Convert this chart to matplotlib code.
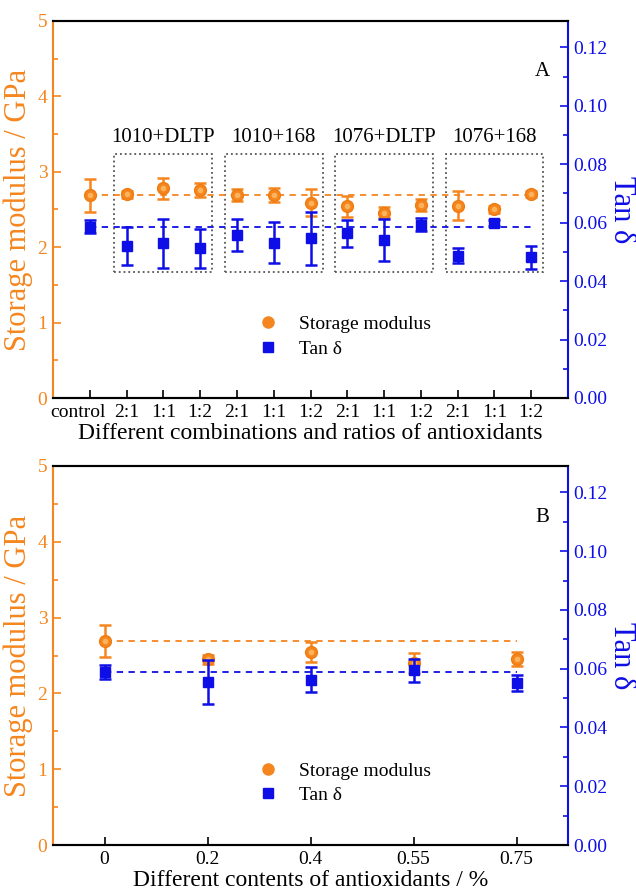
import numpy as np
import matplotlib
matplotlib.use('Agg')
import matplotlib.pyplot as plt
import matplotlib.transforms as mtransforms
from matplotlib.lines import Line2D
from matplotlib.patches import Rectangle
from matplotlib.ticker import MultipleLocator

plt.rcParams['font.family'] = ['Liberation Serif', 'DejaVu Serif']

# ---- data: panel A ----
combo_labels = ['control', '2:1', '1:1', '1:2', '2:1', '1:1', '1:2',
                '2:1', '1:1', '1:2', '2:1', '1:1', '1:2']
group_names = ['1010+DLTP', '1010+168', '1076+DLTP', '1076+168']
sm_a = [2.69, 2.70, 2.78, 2.76, 2.69, 2.69, 2.59, 2.54, 2.46, 2.56, 2.55, 2.50, 2.71]
sm_a_err = [0.22, 0.05, 0.14, 0.09, 0.08, 0.09, 0.18, 0.14, 0.07, 0.08, 0.19, 0.04, 0.04]
tan_a = [0.0586, 0.0521, 0.0529, 0.0512, 0.0557, 0.0532, 0.0546,
         0.0563, 0.0542, 0.0593, 0.0487, 0.0599, 0.0481]
tan_a_err = [0.0023, 0.0065, 0.0084, 0.0067, 0.0054, 0.0070, 0.0090,
             0.0045, 0.0072, 0.0022, 0.0026, 0.0010, 0.0038]

# ---- data: panel B ----
content_labels = ['0', '0.2', '0.4', '0.55', '0.75']
sm_b = [2.69, 2.45, 2.55, 2.40, 2.45]
sm_b_err = [0.21, 0.06, 0.13, 0.13, 0.09]
tan_b = [0.0589, 0.0555, 0.0563, 0.0594, 0.0551]
tan_b_err = [0.0024, 0.0075, 0.0043, 0.0039, 0.0026]

ORANGE = '#F5861F'
ORANGE_LT = '#FBB45C'
BLUE = '#0E0EE6'
W, H = 636, 896


def style_axes(ax, ax2, xlabel, ticklabels, tag):
    x = np.arange(len(ticklabels))
    ax.set_xticks(x)
    ax.set_xticklabels(ticklabels, fontsize=14)
    ax.set_xlabel(xlabel, fontsize=17, labelpad=2)
    ax.set_ylim(0, 5)
    ax.yaxis.set_major_locator(MultipleLocator(1))
    ax.yaxis.set_minor_locator(MultipleLocator(0.5))
    ax.set_ylabel('Storage modulus / GPa', color=ORANGE, fontsize=22, labelpad=3)
    ax.tick_params(axis='x', direction='in', length=6, width=1.2, pad=4)
    ax.tick_params(axis='y', which='major', direction='in', length=6, width=1.2,
                   colors=ORANGE, labelsize=14, pad=4)
    ax.tick_params(axis='y', which='minor', direction='in', length=3.5, width=1.2,
                   colors=ORANGE)
    ax2.set_ylim(0, 0.129)
    ax2.yaxis.set_major_locator(MultipleLocator(0.02))
    ax2.yaxis.set_minor_locator(MultipleLocator(0.01))
    ax2.set_yticklabels([f'{v:.2f}' for v in ax2.get_yticks()])
    ax2.set_ylabel('Tan δ', color=BLUE, fontsize=22, rotation=270, labelpad=20)
    ax2.tick_params(axis='y', which='major', direction='in', length=6, width=1.2,
                    colors=BLUE, labelsize=14, pad=4)
    ax2.tick_params(axis='y', which='minor', direction='in', length=3.5, width=1.2,
                    colors=BLUE)
    for a in (ax, ax2):
        a.spines['top'].set_color('black')
        a.spines['bottom'].set_color('black')
        for s in a.spines.values():
            s.set_linewidth(1.5)
    ax.spines['left'].set_color(ORANGE)
    ax.spines['right'].set_visible(False)
    ax2.spines['left'].set_visible(False)
    ax2.spines['right'].set_color(BLUE)
    ax.text(0.95, 0.865, tag, transform=ax.transAxes, fontsize=15,
            ha='center', va='center')
    handles = [Line2D([], [], ls='none', marker='o', ms=8, mfc=ORANGE, mec=ORANGE),
               Line2D([], [], ls='none', marker='s', ms=7, mfc=BLUE, mec=BLUE)]
    ax2.legend(handles, ['Storage modulus', 'Tan δ'], loc='upper left',
               bbox_to_anchor=(0.365, 0.265), frameon=False, fontsize=14,
               handlelength=1.0, handletextpad=1.1, labelspacing=0.35)


def draw_series(ax, ax2, sm, sm_err, tan, tan_err):
    x = np.arange(len(sm))
    ax.hlines(sm[0], x[0], x[-1], colors=ORANGE, linestyles=(0, (3.5, 3)), lw=1.3)
    ax.errorbar(x, sm, yerr=sm_err, fmt='o', ms=8.5, color=ORANGE, mec='#EE7A10',
                ecolor=ORANGE, elinewidth=1.8, capsize=4.5, capthick=1.8, zorder=3)
    ax.plot(x, sm, 'o', ms=4, color=ORANGE_LT, mec='none', zorder=4)
    ax2.hlines(tan[0], x[0], x[-1], colors=BLUE, linestyles=(0, (3.5, 3)), lw=1.3)
    ax2.errorbar(x, tan, yerr=tan_err, fmt='s', ms=7.5, color=BLUE, ecolor=BLUE,
                 elinewidth=1.8, capsize=4.5, capthick=1.8, zorder=3)


fig = plt.figure(figsize=(W / 100, H / 100), dpi=100)

# panel A
ax1 = fig.add_axes([53 / W, 1 - 398 / H, 515 / W, 377 / H])
ax1b = ax1.twinx()
ax1.set_xlim(-1, 13)
draw_series(ax1, ax1b, sm_a, sm_a_err, tan_a, tan_a_err)
for i, name in enumerate(group_names):
    start = 1 + 3 * i
    ax1.add_patch(Rectangle((start - 0.33, 1.67), 2.66, 1.56, fill=False,
                            ec='#555555', ls=':', lw=1.3, zorder=1))
    ax1.text(start + 1, 3.33, name, ha='center', va='bottom', fontsize=15)
style_axes(ax1, ax1b, 'Different combinations and ratios of antioxidants',
           combo_labels, 'A')
# "control" sits a little left of its tick in the original
first = ax1.get_xticklabels()[0]
first.set_transform(first.get_transform() +
                    mtransforms.ScaledTranslation(-12 / 100, 0, fig.dpi_scale_trans))

# panel B
ax2 = fig.add_axes([53 / W, 1 - 845 / H, 515 / W, 379 / H])
ax2b = ax2.twinx()
ax2.set_xlim(-0.5, 4.5)
draw_series(ax2, ax2b, sm_b, sm_b_err, tan_b, tan_b_err)
style_axes(ax2, ax2b, 'Different contents of antioxidants / %',
           content_labels, 'B')

fig.savefig('out.png', dpi=100)
